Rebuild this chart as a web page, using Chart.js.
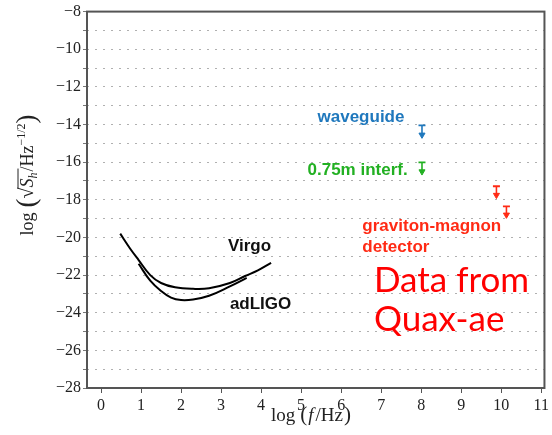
<!DOCTYPE html>
<html>
<head>
<meta charset="utf-8">
<script src="https://cdn.jsdelivr.net/npm/chart.js@4.4.1/dist/chart.umd.min.js"></script>
<style>
  html, body { margin: 0; padding: 0; background: #fff; }
  #wrap { width: 552px; height: 435px; position: relative; }
</style>
</head>
<body>
<div id="wrap"><canvas id="c"></canvas></div>
<script>
// sensitivity curves (log f, log sqrt(Sh))
const virgoX = [0.48, 0.73, 0.94, 1.23, 1.5, 1.85, 2.3, 2.7, 3.22, 3.6, 3.92, 4.25];
const virgoY = [-19.8, -20.6, -21.2, -22.0, -22.42, -22.65, -22.73, -22.7, -22.42, -22.05, -21.75, -21.35];
const ligoX = [0.94, 1.23, 1.5, 1.75, 2.0, 2.3, 2.7, 3.22, 3.64];
const ligoY = [-21.4, -22.3, -22.85, -23.2, -23.33, -23.3, -23.1, -22.6, -22.15];

// upper-limit arrows
const limitNames = ['waveguide', '0.75m interf.', 'graviton-magnon 1', 'graviton-magnon 2'];
const limitX = [8.02, 8.02, 9.88, 10.13];
const limitTop = [-14.05, -16.01, -17.28, -18.35];
const limitEnd = [-14.55, -16.5, -17.75, -18.8];
const limitColors = ['#1f78bd', '#22b022', '#ff2a14', '#ff2a14'];

// axes
const xTicks = [0, 1, 2, 3, 4, 5, 6, 7, 8, 9, 10, 11];
const yTicks = [-28, -27, -26, -25, -24, -23, -22, -21, -20, -19, -18, -17, -16, -15, -14, -13, -12, -11, -10, -9, -8];
const yLabelled = [-28, -26, -24, -22, -20, -18, -16, -14, -12, -10, -8];

// text labels placed in data coordinates
const sansBold = 'bold 17px "Liberation Sans", Arial, sans-serif';
const notes = [
  { text: 'Virgo', x: 3.17, y: -20.73, color: '#111', font: sansBold },
  { text: 'adLIGO', x: 3.22, y: -23.81, color: '#111', font: sansBold },
  { text: 'waveguide', x: 5.41, y: -13.84, color: '#1f78bd', font: sansBold },
  { text: '0.75m interf.', x: 5.16, y: -16.7, color: '#22b022', font: sansBold },
  { text: 'graviton-magnon', x: 6.53, y: -19.67, color: '#ff2a14', font: sansBold },
  { text: 'detector', x: 6.53, y: -20.77, color: '#ff2a14', font: sansBold },
  { text: 'Data from', x: 6.82, y: -22.91, color: '#ff0000', font: '35px Lato, "Open Sans", sans-serif' },
  { text: 'Quax-ae', x: 6.82, y: -24.95, color: '#ff0000', font: '35px Lato, "Open Sans", sans-serif' },
];

const serif = '"Liberation Serif", "DejaVu Serif", serif';

const pts = (xs, ys) => xs.map((x, i) => ({ x, y: ys[i] }));

const datasets = [
  { label: 'Virgo', data: pts(virgoX, virgoY), borderColor: '#000', borderWidth: 2, pointRadius: 0, tension: 0.4 },
  { label: 'adLIGO', data: pts(ligoX, ligoY), borderColor: '#000', borderWidth: 2, pointRadius: 0, tension: 0.4 },
];
limitNames.forEach((name, i) => {
  datasets.push({
    label: name,
    data: [{ x: limitX[i], y: limitTop[i] }, { x: limitX[i], y: limitEnd[i] }],
    borderColor: limitColors[i],
    backgroundColor: limitColors[i],
    borderWidth: 1.6,
    pointStyle: ['line', 'triangle'],
    pointRotation: [0, 180],
    pointRadius: [3.5, 3.5],
    pointBorderWidth: [1.8, 1],
  });
});

function drawParts(ctx, parts, cx, cy){
  let total = 0;
  parts.forEach(p => { ctx.font = p.font; p.w = ctx.measureText(p.t).width; total += p.w + (p.gap || 0); });
  let x = cx - total / 2;
  parts.forEach(p => {
    ctx.font = p.font;
    ctx.fillText(p.t, x, cy + (p.dy || 0));
    if (p.over) {
      ctx.save();
      ctx.lineWidth = 1;
      ctx.beginPath();
      ctx.moveTo(x + p.w - 1, cy - 15);
      ctx.lineTo(x + p.w + p.over, cy - 15);
      ctx.stroke();
      ctx.restore();
    }
    x += p.w + (p.gap || 0);
  });
}

const extras = {
  id: 'extras',
  afterDatasetsDraw(chart){
    const { ctx, chartArea: a, scales } = chart;
    ctx.save();
    // frame
    ctx.strokeStyle = '#555';
    ctx.lineWidth = 2;
    ctx.strokeRect(a.left, a.top, a.right - a.left, a.bottom - a.top);
    // notes
    ctx.textAlign = 'left';
    ctx.textBaseline = 'alphabetic';
    notes.forEach(n => {
      ctx.font = n.font;
      ctx.fillStyle = n.color;
      ctx.fillText(n.text, scales.x.getPixelForValue(n.x), scales.y.getPixelForValue(n.y));
    });
    // x title
    ctx.fillStyle = '#222';
    ctx.strokeStyle = '#222';
    drawParts(ctx, [
      { t: 'log', font: `19px ${serif}`, gap: 5 },
      { t: '(', font: `21px ${serif}`, gap: 1 },
      { t: 'f', font: `italic 19px ${serif}`, gap: 2 },
      { t: '/Hz', font: `19px ${serif}`, gap: 1 },
      { t: ')', font: `21px ${serif}` },
    ], 311, 421);
    // y title, rotated
    ctx.translate(33, 175);
    ctx.rotate(-Math.PI / 2);
    drawParts(ctx, [
      { t: 'log', font: `18px ${serif}`, gap: 5 },
      { t: '(', font: `27px ${serif}`, dy: 2 },
      { t: '√', font: `20px ${serif}`, over: 19 },
      { t: 'S', font: `italic 18px ${serif}` },
      { t: 'h', font: `italic 12px ${serif}`, dy: 4, gap: 1 },
      { t: '/Hz', font: `18px ${serif}` },
      { t: '−1/2', font: `12px ${serif}`, dy: -8 },
      { t: ')', font: `27px ${serif}`, dy: 2 },
    ], 0, 0);
    ctx.restore();
  }
};

new Chart(document.getElementById('c'), {
  type: 'line',
  data: { datasets },
  options: {
    responsive: true,
    maintainAspectRatio: false,
    animation: false,
    layout: { padding: { top: 11, right: 6, left: 0, bottom: 0 } },
    plugins: { legend: { display: false }, tooltip: { enabled: false } },
    scales: {
      x: {
        type: 'linear',
        min: -0.35,
        max: 11.08,
        afterBuildTicks: s => { s.ticks = xTicks.map(v => ({ value: v })); },
        afterFit: s => { s.height = 47; },
        border: { display: false },
        grid: { drawOnChartArea: false, tickLength: 5, tickColor: '#555' },
        ticks: { color: '#222', font: { family: serif, size: 16 }, padding: 3, maxRotation: 0, autoSkip: false, callback: v => String(v) },
      },
      y: {
        type: 'linear',
        min: -28,
        max: -8,
        afterBuildTicks: s => { s.ticks = yTicks.map(v => ({ value: v })); },
        afterFit: s => { s.width = 87; },
        border: { display: false, dash: [2, 6] },
        grid: { color: '#b0b0b0', lineWidth: 1, tickLength: 4, tickColor: '#777', tickBorderDash: [] },
        ticks: {
          color: '#222', font: { family: serif, size: 16 }, padding: 2, autoSkip: false,
          callback: v => yLabelled.includes(v) ? '−' + Math.abs(v) : ''
        },
      }
    }
  },
  plugins: [extras]
});
</script>
</body>
</html>
